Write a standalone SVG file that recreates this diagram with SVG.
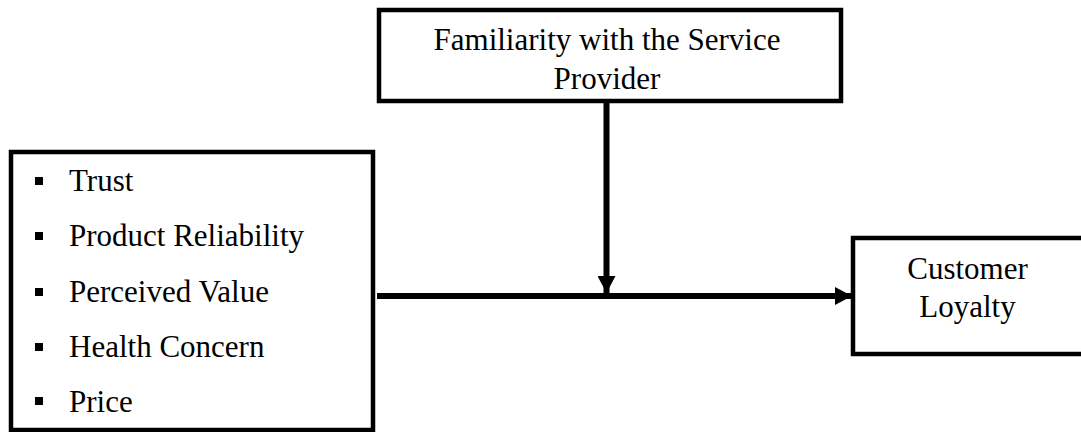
<svg xmlns="http://www.w3.org/2000/svg" width="1081" height="432" viewBox="0 0 1081 432">
<defs>
<style>
.box{fill:#fff;stroke:#000;stroke-width:4.5}
.t{font-family:"Liberation Serif","Times New Roman",serif;font-size:31px;fill:#000}
.c{text-anchor:middle}
.line{stroke:#000;stroke-width:6;fill:none}
.b{fill:#000}
</style>
<marker id="ah" markerUnits="userSpaceOnUse" markerWidth="18" markerHeight="18" viewBox="0 0 18 18" refX="17" refY="9" orient="auto">
<path d="M0,0 L17,9 L0,18 Z" fill="#000"/>
</marker>
</defs>
<g id="moderator">
<rect class="box" x="379" y="10" width="462" height="91"/>
<text class="t c" x="607" y="50">Familiarity with the Service</text>
<text class="t c" x="607" y="89">Provider</text>
</g>
<g id="factors">
<rect class="box" x="11" y="152" width="362" height="278"/>
<rect class="b" x="35" y="177" width="8" height="8"/>
<text class="t" x="69" y="191">Trust</text>
<rect class="b" x="35" y="232" width="8" height="8"/>
<text class="t" x="69" y="246">Product Reliability</text>
<rect class="b" x="35" y="288" width="8" height="8"/>
<text class="t" x="69" y="302">Perceived Value</text>
<rect class="b" x="35" y="343" width="8" height="8"/>
<text class="t" x="69" y="357">Health Concern</text>
<rect class="b" x="35" y="397" width="8" height="8"/>
<text class="t" x="69" y="412">Price</text>
</g>
<g id="loyalty">
<rect class="box" x="853" y="238" width="232" height="116"/>
<text class="t c" x="967.5" y="279">Customer</text>
<text class="t c" x="967.5" y="317">Loyalty</text>
</g>
<g id="connectors">
<line class="line" x1="606.5" y1="101" x2="606.5" y2="293" marker-end="url(#ah)"/>
<line class="line" x1="377" y1="296" x2="852" y2="296" marker-end="url(#ah)"/>
</g>
</svg>
